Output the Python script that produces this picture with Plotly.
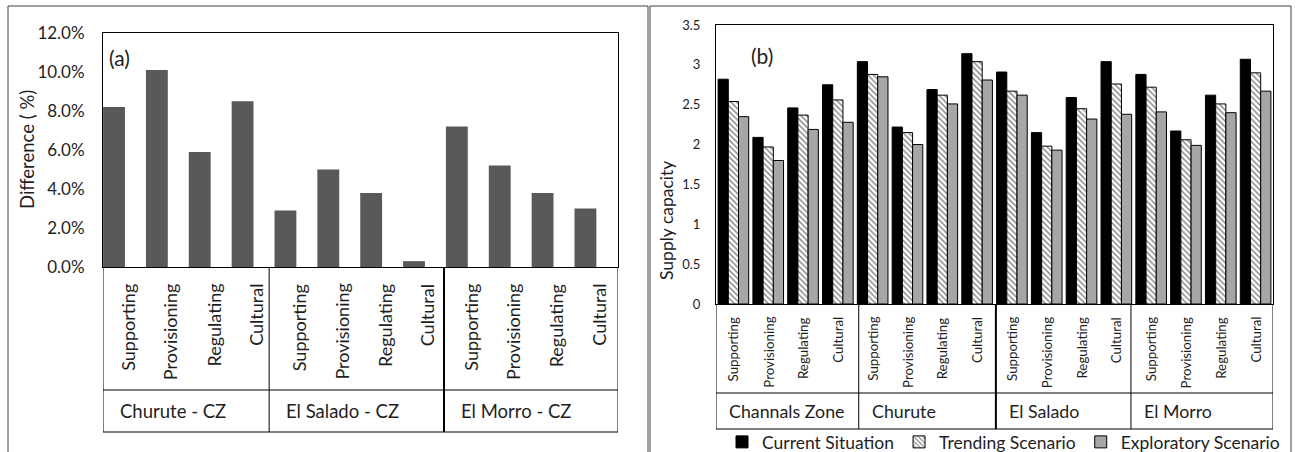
import plotly.graph_objects as go

W, H = 1298, 452

# ---------------- data ----------------
services = ["Supporting", "Provisioning", "Regulating", "Cultural"]

groups_a = ["Churute - CZ", "El Salado - CZ", "El Morro - CZ"]
difference_a = [0.082, 0.101, 0.059, 0.085,
                0.029, 0.050, 0.038, 0.003,
                0.072, 0.052, 0.038, 0.030]

groups_b = ["Channals Zone", "Churute", "El Salado", "El Morro"]
current = [2.82, 2.09, 2.46, 2.75,
           3.04, 2.22, 2.69, 3.14,
           2.91, 2.15, 2.59, 3.04,
           2.88, 2.17, 2.62, 3.07]
trending = [2.54, 1.97, 2.37, 2.56,
            2.88, 2.15, 2.62, 3.04,
            2.67, 1.98, 2.45, 2.76,
            2.72, 2.06, 2.51, 2.90]
exploratory = [2.35, 1.80, 2.19, 2.28,
               2.85, 2.00, 2.51, 2.81,
               2.62, 1.93, 2.32, 2.38,
               2.41, 1.99, 2.40, 2.67]
series_names = ["Current Situation", "Trending Scenario", "Exploratory Scenario"]

yticks_a = [0, 0.02, 0.04, 0.06, 0.08, 0.10, 0.12]
yticks_b = [0, 0.5, 1, 1.5, 2, 2.5, 3, 3.5]

# ---------------- helpers ----------------
FONT = "Lato, 'Open Sans', sans-serif"
TXT = "#1e1e1e"


def px_x(p):
    return p / W


def px_y(p):
    return 1 - p / H


xa = list(range(len(difference_a)))
xb = list(range(len(current)))
cat_a = [services[i % len(services)] for i in xa]
cat_b = [services[i % len(services)] for i in xb]

fig = go.Figure()

fig.add_trace(go.Bar(
    x=xa, y=difference_a, xaxis="x", yaxis="y",
    width=0.51, marker=dict(color="#595959", line=dict(width=0)),
    showlegend=False, hovertext=cat_a,
))

fig.add_trace(go.Bar(
    x=xb, y=current, xaxis="x2", yaxis="y2", name=series_names[0],
    marker=dict(color="#000000", line=dict(color="#000000", width=1)),
))
fig.add_trace(go.Bar(
    x=xb, y=trending, xaxis="x2", yaxis="y2", name=series_names[1],
    marker=dict(color="#ffffff", line=dict(color="#000000", width=1),
                pattern=dict(shape="\\", fgcolor="#7f7f7f", bgcolor="#ffffff",
                             size=4, solidity=0.35)),
))
fig.add_trace(go.Bar(
    x=xb, y=exploratory, xaxis="x2", yaxis="y2", name=series_names[2],
    marker=dict(color="#a6a6a6", line=dict(color="#000000", width=1)),
))

# ---------------- geometry ----------------
a_left, a_right, a_top, a_bot = 103, 618, 33, 267
b_left, b_right, b_top, b_bot = 716, 1273, 25, 304
a_range = [-0.257, 11.76]
b_range = [-0.5, 15.5]
a_bounds = [a_range[0], 3.62, 7.70, a_range[1]]
b_bounds = [b_range[0], 3.6, 7.54, 11.42, b_range[1]]

axis_common = dict(showgrid=False, zeroline=False, showline=True, mirror=True,
                   linecolor="#000000", linewidth=1, ticks="", automargin=False)

fig.update_layout(
    template="none",
    width=W, height=H, autosize=False,
    margin=dict(l=0, r=0, t=0, b=0, pad=0, autoexpand=False),
    paper_bgcolor="white", plot_bgcolor="white",
    font=dict(family=FONT, color=TXT),
    barmode="group", bargap=0.12, bargroupgap=0,
    xaxis=dict(domain=[px_x(a_left), px_x(a_right)], range=a_range,
               showticklabels=False, anchor="y", **axis_common),
    yaxis=dict(domain=[px_y(a_bot), px_y(a_top)], range=[0, 0.12],
               tickvals=yticks_a, tickformat=".1%", ticklabelstandoff=14,
               tickfont=dict(size=17), anchor="x", **axis_common),
    xaxis2=dict(domain=[px_x(b_left), px_x(b_right)], range=b_range,
                showticklabels=False, anchor="y2", **axis_common),
    yaxis2=dict(domain=[px_y(b_bot), px_y(b_top)], range=[0, 3.5],
                tickvals=yticks_b, ticklabelstandoff=12,
                tickfont=dict(size=13), anchor="x2", **axis_common),
    legend=dict(orientation="h", x=px_x(722), xanchor="left",
                y=px_y(442), yanchor="middle", font=dict(size=17.5),
                bgcolor="rgba(0,0,0,0)", borderwidth=0,
                itemwidth=30, tracegroupgap=0),
)

shapes = []
annotations = []

# panel frames
for x0, x1 in [(8, 648), (650, 1291)]:
    shapes.append(dict(type="rect", xref="paper", yref="paper",
                       x0=px_x(x0), x1=px_x(x1), y0=-0.05, y1=px_y(6),
                       line=dict(color="#404040", width=1)))

# category boxes
def add_boxes(xref, bounds, y_axis, y_mid, y_bottom, thick):
    for k, bx in enumerate(bounds):
        shapes.append(dict(type="line", xref=xref, yref="paper",
                           x0=bx, x1=bx, y0=px_y(y_axis), y1=px_y(y_bottom),
                           line=dict(color="#000000", width=2 if k in thick else 1)))
    for yy in (y_mid, y_bottom):
        shapes.append(dict(type="line", xref=xref, yref="paper",
                           x0=bounds[0], x1=bounds[-1], y0=px_y(yy), y1=px_y(yy),
                           line=dict(color="#000000", width=1)))


add_boxes("x", a_bounds, a_bot, 390, 432, thick=[2])
add_boxes("x2", b_bounds, b_bot, 393, 429, thick=[2])

# inner category labels
for i, lab in zip(xa, cat_a):
    annotations.append(dict(xref="x", yref="paper", x=i + 0.31, y=px_y(282),
                            text=lab, textangle=-90, showarrow=False,
                            xanchor="center", yanchor="top", font=dict(size=18)))
for i, lab in zip(xb, cat_b):
    annotations.append(dict(xref="x2", yref="paper", x=i, y=px_y(315),
                            text=lab, textangle=-90, showarrow=False,
                            xanchor="center", yanchor="top", font=dict(size=13.3)))

# group labels
for g, lab in enumerate(groups_a):
    annotations.append(dict(xref="x", yref="paper", x=a_bounds[g], y=px_y(411),
                            text=lab, showarrow=False, xanchor="left",
                            yanchor="middle", xshift=15, font=dict(size=18.5)))
for g, lab in enumerate(groups_b):
    annotations.append(dict(xref="x2", yref="paper", x=b_bounds[g], y=px_y(411),
                            text=lab, showarrow=False, xanchor="left",
                            yanchor="middle", xshift=11, font=dict(size=17.8)))

# axis titles
annotations.append(dict(xref="paper", yref="paper", x=px_x(27), y=px_y(150),
                        text="Difference ( %)", textangle=-90, showarrow=False,
                        xanchor="center", yanchor="middle", font=dict(size=18.5)))
annotations.append(dict(xref="paper", yref="paper", x=px_x(667), y=px_y(221),
                        text="Supply capacity", textangle=-90, showarrow=False,
                        xanchor="center", yanchor="middle", font=dict(size=17.5)))

# panel letters
annotations.append(dict(xref="paper", yref="paper", x=px_x(107), y=px_y(57),
                        text="(a)", showarrow=False, xanchor="left",
                        yanchor="middle", font=dict(size=21)))
annotations.append(dict(xref="paper", yref="paper", x=px_x(749), y=px_y(56),
                        text="(b)", showarrow=False, xanchor="left",
                        yanchor="middle", font=dict(size=21)))

fig.update_layout(shapes=shapes, annotations=annotations)

fig.write_html("out.html",
               config={"displayModeBar": False},
               post_script="document.body.style.margin='0px';"
                           "document.body.style.overflow='hidden';")
